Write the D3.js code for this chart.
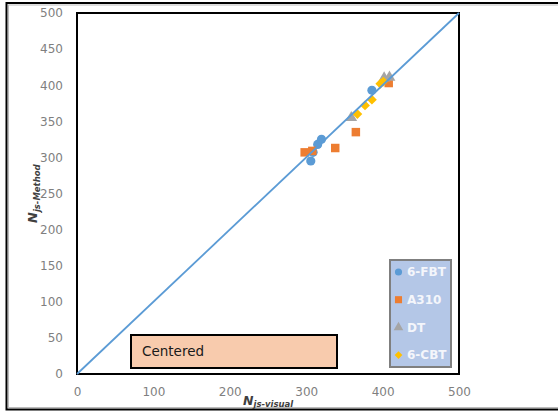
<!DOCTYPE html>
<html>
<head>
<meta charset="utf-8">
<script src="https://cdn.jsdelivr.net/npm/d3@7"></script>
<style>
  html, body { margin: 0; padding: 0; background: #fff; }
  svg { display: block; }
</style>
</head>
<body>
<svg id="chart" width="558" height="412"></svg>
<script>
// Series values: [N js-visual, N js-Method]
const seriesNames = ["6-FBT", "A310", "DT", "6-CBT"];
const fbt = [[306, 295], [309, 307], [315, 318], [320, 325], [386, 393]];
const a310 = [[298, 307], [308, 309], [338, 313], [365, 335], [408, 403]];
const dt = [[359, 355], [402, 410], [409, 411]];
const cbt = [[367, 360], [377, 372], [386, 380], [397, 402], [401, 405]];
const xTicks = [0, 100, 200, 300, 400, 500];
const yTicks = [0, 50, 100, 150, 200, 250, 300, 350, 400, 450, 500];
const identityLine = [[0, 0], [500, 500]];
const noteLabel = "Centered";

const colors = ["#5b9bd5", "#ed7d31", "#a5a5a5", "#ffc000"];
const seriesData = [fbt, a310, dt, cbt];

const svg = d3.select("#chart");
const plot = { left: 77, right: 459, top: 13, bottom: 374 };

const x = d3.scaleLinear().domain([0, 500]).range([plot.left, plot.right]);
const y = d3.scaleLinear().domain([0, 500]).range([plot.bottom, plot.top]);

// outer chart frame (open on the right edge)
svg.append("rect")
  .attr("x", 6.5).attr("y", 3).attr("width", 600).attr("height", 406.5)
  .attr("fill", "#fff").attr("stroke", "#000").attr("stroke-width", 2);
svg.append("rect")
  .attr("x", 8.5).attr("y", 5).attr("width", 600).attr("height", 402.5)
  .attr("fill", "none").attr("stroke", "#bbb").attr("stroke-width", 1);

// axes
const font = "'DejaVu Sans', sans-serif";
const yAxis = svg.append("g")
  .attr("transform", `translate(${plot.left},0)`)
  .call(d3.axisLeft(y).tickValues(yTicks).tickSize(0).tickPadding(14));
const xAxis = svg.append("g")
  .attr("transform", `translate(0,${plot.bottom})`)
  .call(d3.axisBottom(x).tickValues(xTicks).tickSize(0).tickPadding(13));
[xAxis, yAxis].forEach(g => {
  g.select(".domain").remove();
  g.selectAll("text")
    .attr("fill", "#7f7f7f")
    .style("font-family", font)
    .style("font-size", "12px");
});

// plot area frame
svg.append("rect")
  .attr("x", plot.left).attr("y", plot.top)
  .attr("width", plot.right - plot.left).attr("height", plot.bottom - plot.top)
  .attr("fill", "none").attr("stroke", "#000").attr("stroke-width", 2);

// marker shapes
const shapes = [
  { type: d3.symbolCircle, size: 66, rot: 0 },
  { type: d3.symbolSquare, size: 72, rot: 0 },
  { type: d3.symbolTriangle, size: 60, rot: 0 },
  { type: d3.symbolSquare, size: 48, rot: 45 }
];

seriesData.forEach((data, i) => {
  const sym = d3.symbol().type(shapes[i].type).size(shapes[i].size);
  svg.append("g").selectAll("path")
    .data(data)
    .join("path")
    .attr("d", sym)
    .attr("transform", d => `translate(${x(d[0])},${y(d[1])}) rotate(${shapes[i].rot})`)
    .attr("fill", colors[i]);
});

// 1:1 line
svg.append("path")
  .datum(identityLine)
  .attr("d", d3.line().x(d => x(d[0])).y(d => y(d[1])))
  .attr("fill", "none")
  .attr("stroke", "#5b9bd5")
  .attr("stroke-width", 1.8);

// legend
const lg = svg.append("g");
lg.append("rect")
  .attr("x", 390).attr("y", 260).attr("width", 61).attr("height", 107)
  .attr("fill", "#b4c7e7").attr("stroke", "#7f7f7f").attr("stroke-width", 2);
const legendShapes = [
  { type: d3.symbolCircle, size: 40, rot: 0 },
  { type: d3.symbolSquare, size: 50, rot: 0 },
  { type: d3.symbolTriangle, size: 40, rot: 0 },
  { type: d3.symbolSquare, size: 30, rot: 45 }
];
seriesNames.forEach((name, i) => {
  const cy = 272 + i * 27.7;
  lg.append("path")
    .attr("d", d3.symbol().type(legendShapes[i].type).size(legendShapes[i].size))
    .attr("transform", `translate(398.5,${cy}) rotate(${legendShapes[i].rot})`)
    .attr("fill", colors[i]);
  lg.append("text")
    .attr("x", 407).attr("y", cy)
    .attr("dy", "0.36em")
    .attr("fill", "#f4f6fb")
    .style("font-family", font)
    .style("font-size", "12px")
    .style("font-weight", "bold")
    .text(name);
});

// annotation box
svg.append("rect")
  .attr("x", 131).attr("y", 335).attr("width", 206).attr("height", 33)
  .attr("fill", "#f8cbad").attr("stroke", "#000").attr("stroke-width", 2);
svg.append("text")
  .attr("x", 142).attr("y", 355.5)
  .attr("fill", "#1a1a1a")
  .style("font-family", font)
  .style("font-size", "13.5px")
  .text(noteLabel);

// axis titles
const xt = svg.append("text")
  .attr("x", 243).attr("y", 405)
  .attr("fill", "#404040")
  .style("font-family", font)
  .style("font-style", "italic")
  .style("font-weight", "bold");
xt.append("tspan").style("font-size", "12.5px").text("N");
xt.append("tspan").attr("dy", 2).style("font-size", "8.5px").text("js-visual");

const yt = svg.append("text")
  .attr("transform", "translate(37,223) rotate(-90)")
  .attr("fill", "#404040")
  .style("font-family", font)
  .style("font-style", "italic")
  .style("font-weight", "bold");
yt.append("tspan").style("font-size", "13px").text("N");
yt.append("tspan").attr("dy", 3).style("font-size", "8.5px").text("js-Method");
</script>
</body>
</html>
